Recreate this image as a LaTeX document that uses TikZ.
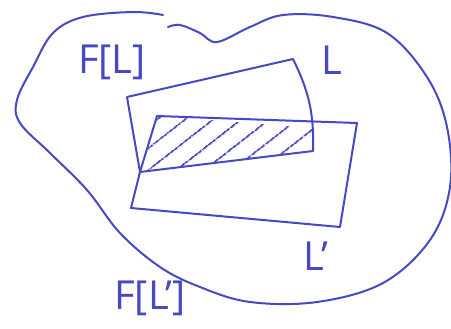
\documentclass[tikz,border=0pt]{standalone}
\usepackage{fontspec}
\setsansfont{Open Sans}
\usetikzlibrary{patterns, patterns.meta}
\definecolor{ink}{RGB}{72,72,196}

\begin{document}
\begin{tikzpicture}[x=0.75pt, y=-0.75pt, line width=1.5pt, line cap=round, line join=round,
    lbl/.style={text=ink, font=\sffamily\fontsize{30}{30}\selectfont, inner sep=0pt}]
    \useasboundingbox (0,0) rectangle (451,329);
    % hatched common part of L and L'
    \fill[pattern={Lines[angle=38, distance={13pt}, line width=1.3pt]}, pattern color=ink]
        (140,172) -- (157,116) -- (313,128) -- (313,151) -- cycle;
    % the blob
    \draw[ink] plot[smooth, tension=0.6] coordinates {(163,15) (133,12) (83,17) (53,33) (33,67) (17,100)
        (20,123) (50,153) (87,190) (120,233) (160,267) (200,287) (250,302) (317,302) (383,283)
        (430,240) (450,187) (447,127) (427,77) (387,33) (333,17) (283,15) (250,27) (217,42)
        (200,33) (180,25) (168,27)};
    % rectangle L
    \draw[ink] (140,172) -- (127,97) -- (293,59) to[bend left=14] (313,151) -- cycle;
    % rectangle L'
    \draw[ink] (157,116) -- (357,123) -- (340,227) -- (131,208) -- (140,172) -- cycle;
    \node[lbl] (fl) at (112,62) {F[L]};
    \node[lbl] (l) at (332,60) {L};
    \node[lbl] (lp) at (316,256) {L’};
    \node[lbl] (flp) at (150,298) {F[L’]};
\end{tikzpicture}
\end{document}
